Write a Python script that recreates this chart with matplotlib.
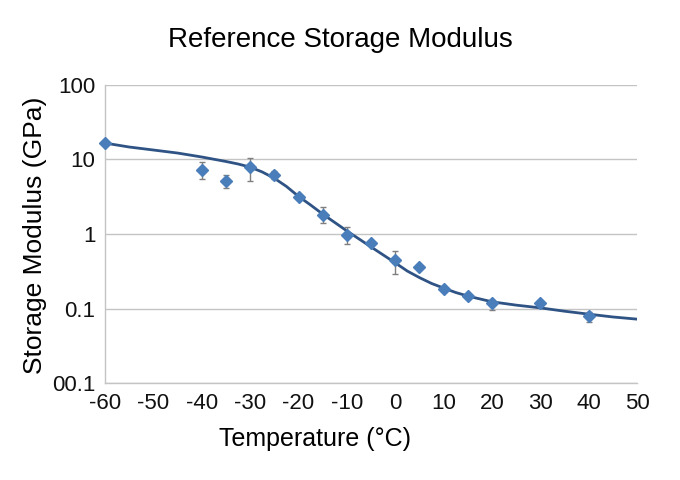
import numpy as np
import matplotlib
matplotlib.use("Agg")
import matplotlib.pyplot as plt
from matplotlib.ticker import FixedLocator, FixedFormatter, NullLocator

plt.rcParams['font.family'] = ['Liberation Sans', 'DejaVu Sans']

# measured points
temps = [-60, -40, -35, -30, -25, -20, -15, -10, -5, 0, 5, 10, 15, 20, 30, 40]
modulus = [16.7, 7.2, 5.1, 7.9, 6.2, 3.1, 1.8, 0.97, 0.76, 0.45, 0.36, 0.18, 0.145, 0.12, 0.12, 0.079]
err_low = [16.7, 5.5, 4.1, 5.1, 5.5, 3.1, 1.4, 0.73, 0.76, 0.29, 0.36, 0.18, 0.145, 0.095, 0.12, 0.066]
err_high = [16.7, 9.3, 6.2, 10.5, 7.0, 3.1, 2.3, 1.24, 0.76, 0.59, 0.36, 0.18, 0.145, 0.13, 0.12, 0.090]

# fitted curve
curve_t = [-60, -55, -50, -45, -40, -35, -32.5, -30, -27.5, -25, -22.5, -20, -17.5, -15,
           -10, -5, 0, 2.5, 5, 7.5, 10, 12.5, 15, 20, 25, 30, 35, 40, 45, 50]
curve_e = [16.6, 14.7, 13.4, 12.2, 10.8, 9.4, 8.7, 7.9, 6.8, 5.6, 4.35, 3.2, 2.45, 1.85,
           1.10, 0.67, 0.41, 0.318, 0.26, 0.217, 0.188, 0.164, 0.147, 0.123, 0.111, 0.102,
           0.092, 0.084, 0.077, 0.072]

y_ticks = [0.01, 0.1, 1, 10, 100]
y_labels = ["00.1", "0.1", "1", "10", "100"]
x_ticks = list(range(-60, 51, 10))

fig = plt.figure(figsize=(6.8, 4.8), dpi=100)
ax = fig.add_axes([0.1544, 0.202, 0.7826, 0.621])

ax.plot(curve_t, curve_e, color="#2e5384", lw=2.0, zorder=2)

mod = np.array(modulus)
yerr = [mod - np.array(err_low), np.array(err_high) - mod]
ax.errorbar(temps, modulus, yerr=yerr, fmt="none", ecolor="#7f7f7f",
            elinewidth=1.0, capsize=2.5, capthick=1.0, zorder=3)
ax.plot(temps, modulus, ls="none", marker="D", ms=6.5, color="#4a7ebb",
        mec="#4a7ebb", zorder=4, clip_on=False)

ax.set_yscale("log")
ax.set_ylim(0.01, 100)
ax.set_xlim(-60, 50)
ax.yaxis.set_major_locator(FixedLocator(y_ticks))
ax.yaxis.set_major_formatter(FixedFormatter(y_labels))
ax.yaxis.set_minor_locator(NullLocator())
ax.set_xticks(x_ticks)
ax.set_xticklabels([str(t) for t in x_ticks])

ax.grid(axis="y", color="#c4c4c4", lw=1.0)
ax.set_axisbelow(True)
for side in ["top", "right"]:
    ax.spines[side].set_visible(False)
for side in ["left", "bottom"]:
    ax.spines[side].set_color("#c4c4c4")
    ax.spines[side].set_linewidth(1.0)
ax.tick_params(axis="both", length=0, labelsize=16, colors="#111111")
ax.tick_params(axis="x", pad=7)
ax.tick_params(axis="y", pad=7)

fig.text(0.50, 0.917, "Reference Storage Modulus", ha="center", va="center",
         fontsize=20, color="#000000")
fig.text(0.463, 0.085, "Temperature (°C)", ha="center", va="center",
         fontsize=18, color="#000000")
fig.text(0.052, 0.51, "Storage Modulus (GPa)", ha="center", va="center",
         rotation=90, fontsize=19, color="#000000")

fig.savefig("out.png", dpi=100)
